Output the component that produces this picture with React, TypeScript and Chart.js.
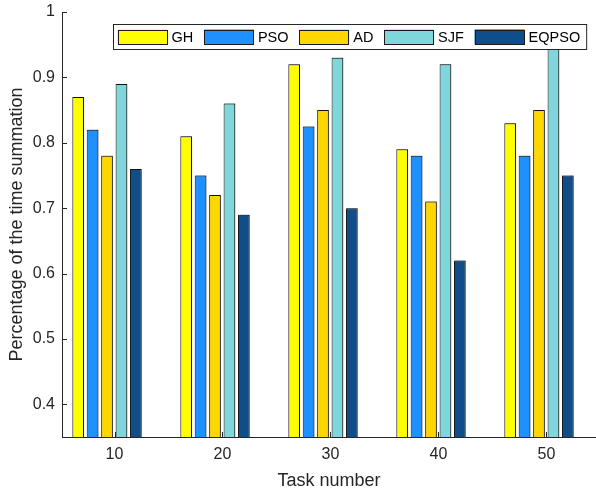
import React, { useEffect, useRef } from 'react';
import { Chart, registerables } from 'chart.js';

Chart.register(...registerables);

// Task counts on the horizontal axis
const TASKS = [10, 20, 30, 40, 50];

// Share of the time summation per scheduling method
const GH = [0.87, 0.81, 0.92, 0.79, 0.83];
const PSO = [0.82, 0.75, 0.825, 0.78, 0.78];
const AD = [0.78, 0.72, 0.85, 0.71, 0.85];
const SJF = [0.89, 0.86, 0.93, 0.92, 0.96];
const EQPSO = [0.76, 0.69, 0.7, 0.62, 0.75];

const SERIES_NAMES = ['GH', 'PSO', 'AD', 'SJF', 'EQPSO'];
const SERIES_VALUES = [GH, PSO, AD, SJF, EQPSO];
const SERIES_COLORS = ['#FFFF00', '#1E90FF', '#FFD700', '#7FD7DC', '#104E8B'];

const Y_TICKS = [0.4, 0.5, 0.6, 0.7, 0.8, 0.9, 1];

const FONT = '"Liberation Sans", Arial, Helvetica, sans-serif';
const AXIS_COLOR = '#262626';
const X_LABEL_SHIFT = 7.5;

// Inward tick marks on the left and bottom axes
const tickMarks = {
  id: 'tickMarks',
  beforeDatasetsDraw(chart: any) {
    const { ctx, chartArea, scales } = chart;
    ctx.save();
    ctx.strokeStyle = AXIS_COLOR;
    ctx.lineWidth = 1;
    ctx.beginPath();
    for (const v of Y_TICKS) {
      const y = Math.round(scales.y.getPixelForValue(v)) + 0.5;
      ctx.moveTo(chartArea.left, y);
      ctx.lineTo(chartArea.left + 5, y);
    }
    for (const t of TASKS) {
      const x = Math.round(scales.x.getPixelForValue(t) + X_LABEL_SHIFT) + 0.5;
      ctx.moveTo(x, chartArea.bottom);
      ctx.lineTo(x, chartArea.bottom - 5);
    }
    ctx.stroke();
    ctx.restore();
  },
};

// Soft edge on the bars
const barShade = {
  id: 'barShade',
  beforeDatasetsDraw(chart: any) {
    const { ctx } = chart;
    ctx.save();
    ctx.shadowColor = 'rgba(0,0,0,0.35)';
    ctx.shadowOffsetX = 1;
    ctx.shadowOffsetY = -1;
    ctx.shadowBlur = 0;
  },
  afterDatasetsDraw(chart: any) {
    chart.ctx.restore();
  },
};

// Boxed legend in a single row at the top right
const boxLegend = {
  id: 'boxLegend',
  afterDraw(chart: any) {
    const { ctx } = chart;
    const left = 113;
    const top = 24.5;
    const height = 25;
    const swW = 50;
    const swH = 15;
    ctx.save();
    ctx.font = `14.5px ${FONT}`;
    let x = left + 4.5;
    const items: { x: number; tx: number; w: number }[] = [];
    for (const name of SERIES_NAMES) {
      const w = ctx.measureText(name).width;
      items.push({ x, tx: x + swW + 4, w });
      x = x + swW + 4 + w + 10.7;
    }
    const right = x - 10.7 + 6;
    ctx.fillStyle = '#ffffff';
    ctx.fillRect(left, top, right - left, height);
    ctx.strokeStyle = AXIS_COLOR;
    ctx.lineWidth = 1;
    ctx.strokeRect(left + 0.5, top, right - left, height);
    SERIES_NAMES.forEach((name, i) => {
      const it = items[i];
      const sy = top + (height - swH) / 2;
      ctx.fillStyle = SERIES_COLORS[i];
      ctx.fillRect(it.x, sy, swW, swH);
      ctx.strokeStyle = '#1a1a1a';
      ctx.strokeRect(Math.round(it.x) + 0.5, Math.round(sy) + 0.5, swW - 1, swH - 1);
      ctx.fillStyle = '#000000';
      ctx.textBaseline = 'middle';
      ctx.textAlign = 'left';
      ctx.fillText(name, it.tx, top + height / 2 + 0.5);
    });
    ctx.restore();
  },
};

export default function App() {
  const canvasRef = useRef<HTMLCanvasElement | null>(null);

  useEffect(() => {
    document.body.style.margin = '0';
    const canvas = canvasRef.current;
    if (!canvas) return;

    const chart = new Chart(canvas, {
      type: 'bar',
      data: {
        datasets: SERIES_NAMES.map((name, i) => ({
          label: name,
          data: SERIES_VALUES[i].map((v, j) => ({ x: TASKS[j], y: v })),
          backgroundColor: SERIES_COLORS[i],
          borderColor: '#1a1a1a',
          borderWidth: 1,
          categoryPercentage: 0.668,
          barPercentage: 0.81,
        })),
      },
      options: {
        responsive: false,
        animation: false,
        layout: { padding: { top: 12, right: 0, left: 0, bottom: 0 } },
        plugins: {
          legend: { display: false },
          tooltip: { enabled: false },
        },
        scales: {
          x: {
            type: 'linear',
            offset: false,
            min: 5.833,
            max: 55.28,
            afterBuildTicks: (axis: any) => {
              axis.ticks = TASKS.map((v) => ({ value: v }));
            },
            afterFit: (axis: any) => {
              axis.height = 55;
              axis.paddingLeft = 0;
              axis.paddingRight = 0;
            },
            grid: { display: false, drawTicks: false, offset: false },
            border: { display: true, color: AXIS_COLOR, width: 1 },
            ticks: {
              padding: 8,
              labelOffset: X_LABEL_SHIFT,
              maxRotation: 0,
              autoSkip: false,
              color: AXIS_COLOR,
              font: { family: FONT, size: 16 },
              callback: (v: any) => String(v),
            },
            title: {
              display: true,
              text: 'Task number',
              color: AXIS_COLOR,
              font: { family: FONT, size: 18 },
              padding: { top: 0, bottom: 0 },
            },
          },
          y: {
            type: 'linear',
            min: 0.35,
            max: 1,
            afterBuildTicks: (axis: any) => {
              axis.ticks = Y_TICKS.map((v) => ({ value: v }));
            },
            afterFit: (axis: any) => {
              axis.width = 62;
              axis.paddingTop = 0;
              axis.paddingBottom = 0;
            },
            grid: { display: false, drawTicks: false },
            border: { display: true, color: AXIS_COLOR, width: 1 },
            ticks: {
              padding: 7,
              color: AXIS_COLOR,
              font: { family: FONT, size: 16 },
              callback: (v: any) => (Number(v) === 1 ? '1' : Number(v).toFixed(1)),
            },
            title: {
              display: true,
              text: 'Percentage of the time summation',
              color: AXIS_COLOR,
              font: { family: FONT, size: 18 },
              padding: { top: 6, bottom: 0 },
            },
          },
        },
      },
      plugins: [tickMarks, barShade, boxLegend],
    });

    return () => chart.destroy();
  }, []);

  return (
    <div style={{ width: 596, height: 492 }}>
      <canvas ref={canvasRef} width={596} height={492} style={{ display: 'block' }} />
    </div>
  );
}
